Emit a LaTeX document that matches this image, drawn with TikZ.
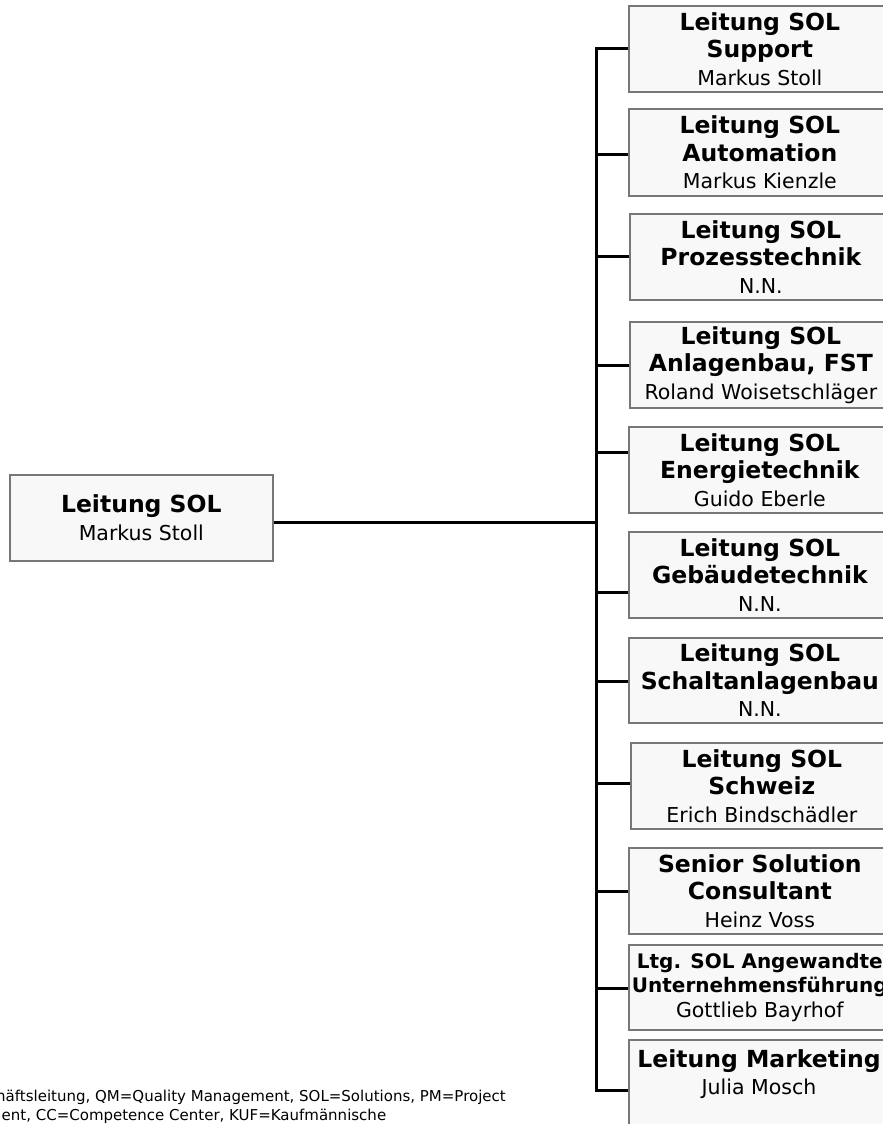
\documentclass[tikz,border=0pt]{standalone}
\usepackage{fontspec}
\setmainfont{DejaVu Sans}
\definecolor{boxfill}{HTML}{F8F8F8}
\definecolor{boxline}{HTML}{777777}
\newcommand\boxhead[1]{{\fontsize{23.5}{27.5}\selectfont\bfseries #1}}
\newcommand\boxheadsm[1]{{\fontsize{20}{24}\selectfont\bfseries #1}}
\begin{document}
\begin{tikzpicture}[x=1pt,y=-1pt,
  box/.style={draw=boxline, fill=boxfill, line width=1.7pt, minimum width=262pt,
    minimum height=86pt, inner sep=0pt, align=center, anchor=north west,
    font=\fontsize{20.5}{27.5}\selectfont},
  conn/.style={line width=3pt, draw=black},
  foot/.style={anchor=base west, inner sep=0pt, font=\fontsize{15}{18}\selectfont}]
\useasboundingbox (0,0) rectangle (883,1124);
\clip (0,0) rectangle (883,1124);

% root
\node[box, minimum width=263pt, font=\fontsize{20.5}{28}\selectfont] (root) at (9,474) {\boxhead{Leitung SOL}\\Markus Stoll};

% children
\node[box] (b1) at (628,5) {\boxhead{Leitung SOL}\\\boxhead{Support}\\Markus Stoll};
\node[box, minimum height=87pt] (b2) at (628,108) {\boxhead{Leitung SOL}\\\boxhead{Automation}\\Markus Kienzle};
\node[box] (b3) at (629,213) {\boxhead{Leitung SOL}\\\boxhead{Prozesstechnik}\\N.N.};
\node[box] (b4) at (629,321) {\boxhead{Leitung SOL}\\\boxhead{Anlagenbau, FST}\\Roland Woisetschläger};
\node[box] (b5) at (628,426) {\boxhead{Leitung SOL}\\\boxhead{Energietechnik}\\Guido Eberle};
\node[box] (b6) at (628,531) {\boxhead{Leitung SOL}\\\boxhead{Gebäudetechnik}\\N.N.};
\node[box, minimum height=85pt] (b7) at (628,637) {\boxhead{Leitung SOL}\\\boxhead{Schaltanlagenbau}\\N.N.};
\node[box] (b8) at (630,742) {\boxhead{Leitung SOL}\\\boxhead{Schweiz}\\Erich Bindschädler};
\node[box] (b9) at (628,847) {\boxhead{Senior Solution}\\\boxhead{Consultant}\\Heinz Voss};
\node[box, minimum height=85pt, font=\fontsize{20.5}{24.5}\selectfont] (b10) at (628,944) {\boxheadsm{Ltg. SOL Angewandte}\\\boxheadsm{Unternehmensführung}\\Gottlieb Bayrhof};
\node[box, minimum height=104pt] (b11) at (628,1039) {};
\node[align=center, inner sep=0pt, font=\fontsize{20.5}{27.5}\selectfont] (t11) at (759,1074) {\boxhead{Leitung Marketing}\\Julia Mosch};

% connectors
\coordinate (bus) at (596,0);
\draw[conn] (b1.west) -- (b1.west -| bus) -- ([yshift=1pt]b11.west -| bus) -- ([yshift=1pt]b11.west);
\draw[conn] ([yshift=-2.5pt]b2.west) -- ([yshift=-2.5pt]b2.west -| bus);
\draw[conn] (b3.west) -- (b3.west -| bus);
\draw[conn] ([yshift=-1pt]b4.west) -- ([yshift=-1pt]b4.west -| bus);
\draw[conn] ([yshift=17pt]b5.west) -- ([yshift=17pt]b5.west -| bus);
\draw[conn] ([yshift=-18pt]b6.west) -- ([yshift=-18pt]b6.west -| bus);
\draw[conn] ([yshift=-1.5pt]b7.west) -- ([yshift=-1.5pt]b7.west -| bus);
\draw[conn] ([yshift=2pt]b8.west) -- ([yshift=2pt]b8.west -| bus);
\draw[conn] ([yshift=-1pt]b9.west) -- ([yshift=-1pt]b9.west -| bus);
\draw[conn] ([yshift=-1.5pt]b10.west) -- ([yshift=-1.5pt]b10.west -| bus);
\draw[conn] ([yshift=-5pt]root.east) -- ([yshift=-5pt]root.east -| bus);

% footnote
\node[foot] (f1) at (-4,1101.7) {häftsleitung, QM=Quality Management, SOL=Solutions, PM=Project};
\node[foot] (f2) at (1.5,1120) {ent, CC=Competence Center, KUF=Kaufmännische};
\end{tikzpicture}
\end{document}
